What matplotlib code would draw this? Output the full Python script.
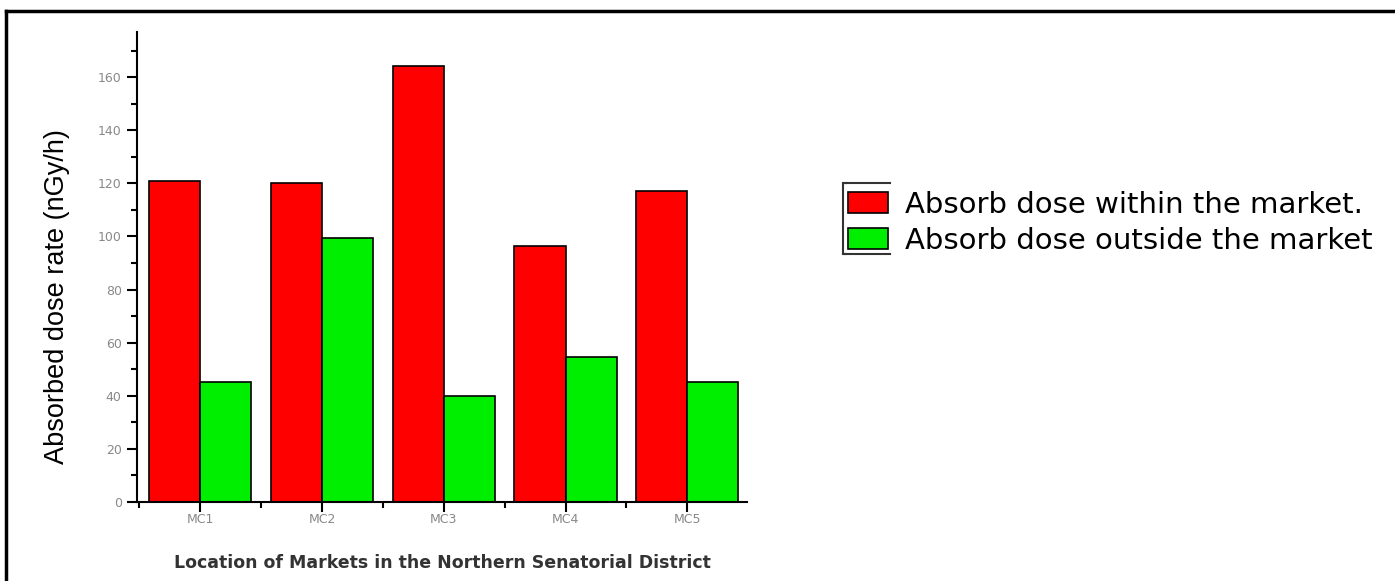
import matplotlib.pyplot as plt
from matplotlib.lines import Line2D
from matplotlib.ticker import MultipleLocator

markets = ["MC1", "MC2", "MC3", "MC4", "MC5"]
within = [121, 120, 164, 96.5, 117]
outside = [45, 99.5, 40, 54.5, 45]
labels = ["Absorb dose within the market.", "Absorb dose outside the market"]

fig = plt.figure(figsize=(13.95, 5.81), dpi=100)
ax = fig.add_axes([0.0982, 0.136, 0.4373, 0.809])

x = list(range(1, len(markets) + 1))
w = 0.42
r = ax.bar([i - w / 2 for i in x], within, width=w, color="#ff0000", edgecolor="black", linewidth=1.2)
g = ax.bar([i + w / 2 for i in x], outside, width=w, color="#00ee00", edgecolor="black", linewidth=1.2)

ax.set_xlim(0.48, 5.49)
ax.set_ylim(0, 177)
ax.spines["top"].set_visible(False)
ax.spines["right"].set_visible(False)
for s in ["left", "bottom"]:
    ax.spines[s].set_linewidth(1.5)

ax.set_xticks(x)
ax.set_xticklabels(markets)
ax.xaxis.set_minor_locator(MultipleLocator(1, offset=0.5))
ax.yaxis.set_major_locator(MultipleLocator(20))
ax.yaxis.set_minor_locator(MultipleLocator(10))
ax.tick_params(which="major", length=7, width=1.5, labelsize=9, labelcolor="#888888")
ax.tick_params(which="minor", length=4, width=1.5)
ax.tick_params(axis="x", pad=1)
ax.tick_params(axis="y", pad=4)

ax.set_ylabel("Absorbed dose rate (nGy/h)", fontsize=19.5, family="Liberation Sans")
ax.yaxis.set_label_coords(-0.109, 0.436)
ax.set_xlabel("Location of Markets in the Northern Senatorial District", fontsize=12.5,
              fontweight="bold", color="#333333", labelpad=20)

leg = fig.legend([r, g], labels, loc="upper left", bbox_to_anchor=(0.593, 0.707),
                 frameon=False, prop={"family": "DejaVu Sans", "size": 21},
                 handlelength=1.37, handleheight=0.75, handletextpad=0.6, labelspacing=0.27,
                 borderpad=0.2)

# bracket-like legend frame
fig.add_artist(Line2D([0.6065, 0.6045, 0.6045, 0.6065], [0.685, 0.685, 0.563, 0.563],
                      color="#333333", lw=1.5, transform=fig.transFigure))
fig.add_artist(Line2D([0.6045, 0.638], [0.685, 0.685], color="#333333", lw=1.5, transform=fig.transFigure))
fig.add_artist(Line2D([0.6045, 0.638], [0.563, 0.563], color="#333333", lw=1.5, transform=fig.transFigure))

# page border (top and left)
fig.add_artist(Line2D([0.0045, 1.0], [0.981, 0.981], color="black", lw=2.5, transform=fig.transFigure))
fig.add_artist(Line2D([0.0045, 0.0045], [0.981, 0.0], color="black", lw=2.5, transform=fig.transFigure))

fig.savefig("out.png", dpi=100)
